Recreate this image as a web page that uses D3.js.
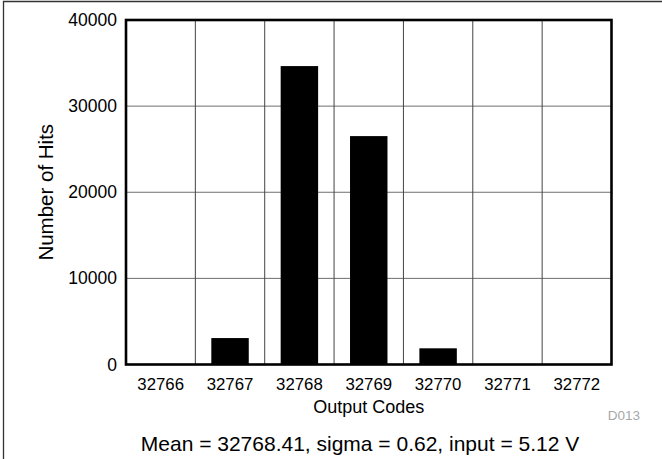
<!DOCTYPE html>
<html><head><meta charset="utf-8">
<script src="https://cdn.jsdelivr.net/npm/d3@7"></script>
<style>
html,body{margin:0;padding:0;background:#fff;}
svg{display:block;font-family:"Liberation Sans",Arial,Helvetica,sans-serif;}
</style></head>
<body>
<svg id="chart" width="662" height="459"></svg>
<script>
const categories = ["32766","32767","32768","32769","32770","32771","32772"];
const hits = [60, 3070, 34650, 26520, 1880, 20, 20];
const yTicks = [0, 10000, 20000, 30000, 40000];
const xTitle = "Output Codes";
const yTitle = "Number of Hits";
const caption = "Mean = 32768.41, sigma = 0.62, input = 5.12 V";
const figId = "D013";

const svg = d3.select("#chart");
const pL = 126, pR = 611.5, pT = 20, pB = 364.5;

// outer frame
svg.append("path").attr("d", "M3.5,470 V1.5 H670")
  .attr("fill","none").attr("stroke","#333").attr("stroke-width",1.3);

const x = d3.scaleBand().domain(categories).range([pL, pR]).padding(0);
const y = d3.scaleLinear().domain([0, 40000]).range([pB, pT]);

// gridlines
svg.append("g").selectAll("line").data(yTicks.slice(1, -1)).join("line")
  .attr("x1", pL).attr("x2", pR)
  .attr("y1", d => y(d)).attr("y2", d => y(d))
  .attr("stroke", "#6e6e6e").attr("stroke-width", 1);
svg.append("g").selectAll("line").data(categories.slice(1)).join("line")
  .attr("x1", d => x(d)).attr("x2", d => x(d))
  .attr("y1", pT).attr("y2", pB)
  .attr("stroke", "#444").attr("stroke-width", 1);

// bars
const bw = x.bandwidth() * 0.54;
svg.append("g").selectAll("rect").data(hits).join("rect")
  .attr("x", (d, i) => x(categories[i]) + x.bandwidth() / 2 - bw / 2)
  .attr("width", bw)
  .attr("y", d => y(d))
  .attr("height", d => y(0) - y(d))
  .attr("fill", "#000");

// plot frame
svg.append("rect").attr("x", pL).attr("y", pT)
  .attr("width", pR - pL).attr("height", pB - pT)
  .attr("fill", "none").attr("stroke", "#000").attr("stroke-width", 2.6);

// y axis labels
const yAxis = d3.axisLeft(y).tickValues(yTicks).tickSize(0).tickPadding(9).tickFormat(d3.format("d"));
const gy = svg.append("g").attr("transform", `translate(${pL},0)`).call(yAxis);
gy.select(".domain").remove();
gy.selectAll("text").attr("font-size", 17.5).attr("fill", "#000")
  .attr("font-family", '"Liberation Sans",Arial,sans-serif');

// x axis labels
const xAxis = d3.axisBottom(x).tickSize(0).tickPadding(14);
const gx = svg.append("g").attr("transform", `translate(0,${pB})`).call(xAxis);
gx.select(".domain").remove();
gx.selectAll("text").attr("font-size", 16.8).attr("fill", "#000")
  .attr("font-family", '"Liberation Sans",Arial,sans-serif');

// titles
svg.append("text").attr("x", (pL + pR) / 2).attr("y", 413)
  .attr("text-anchor", "middle").attr("font-size", 18).text(xTitle);
svg.append("text").attr("transform", `translate(53,${(pT + pB) / 2}) rotate(-90)`)
  .attr("text-anchor", "middle").attr("font-size", 20.5).text(yTitle);
svg.append("text").attr("x", 640).attr("y", 420)
  .attr("text-anchor", "end").attr("font-size", 13.5).attr("fill", "#a8a8a8").text(figId);
svg.append("text").attr("x", 360).attr("y", 451)
  .attr("text-anchor", "middle").attr("font-size", 21).text(caption);
</script>
</body></html>
